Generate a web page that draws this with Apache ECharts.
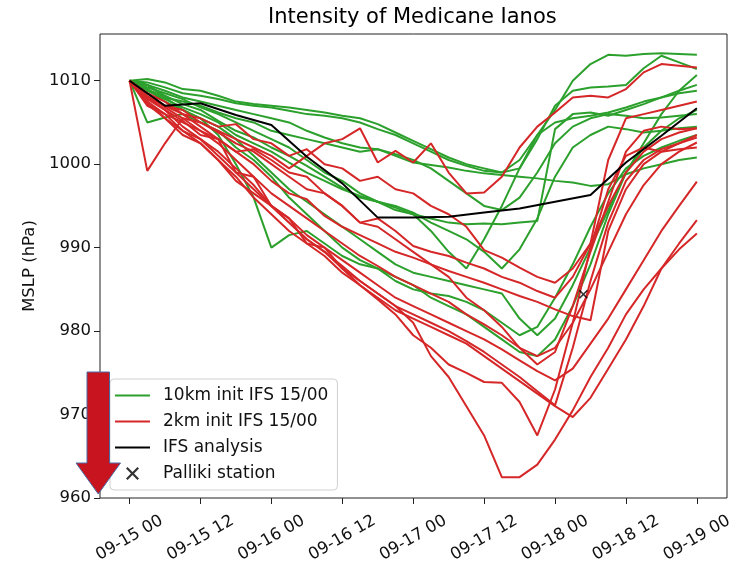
<!DOCTYPE html>
<html><head><meta charset="utf-8">
<script src="https://cdn.jsdelivr.net/npm/echarts@6/dist/echarts.min.js"></script>
<style>html,body{margin:0;padding:0;background:#fff}#c{width:737px;height:563px}</style>
</head><body><div id="c"></div>
<script>
// ---- data ----
const hours = [0,3,6,9,12,15,18,21,24,27,30,33,36,39,42,45,48,51,54,57,60,63,66,69,72,75,78,81,84,87,90,93,96];
const hoursAnalysis = [0,6,12,18,24,30,36,42,48,54,60,66,72,78,84,90,96];
const xTickHours = [0,12,24,36,48,60,72,84,96];
const xTickLabels = ['09-15 00','09-15 12','09-16 00','09-16 12','09-17 00','09-17 12','09-18 00','09-18 12','09-19 00'];
const yTicks = [960,970,980,990,1000,1010];

// 10km init IFS 15/00 runs (hPa)
const g01 = [1010,1010.2,1009.8,1009.0,1008.8,1008.2,1007.5,1007.2,1007.0,1006.8,1006.5,1006.2,1005.8,1005.5,1004.8,1003.8,1002.8,1001.8,1000.8,1000.0,999.5,999.0,1000.5,1003.5,1006.5,1010.0,1012.0,1013.1,1013.0,1013.2,1013.3,1013.2,1013.1];
const g02 = [1010,1009.8,1009.2,1008.5,1008.2,1007.8,1007.3,1007.0,1006.8,1006.4,1006.0,1005.8,1005.5,1005.0,1004.2,1003.5,1002.5,1001.5,1000.5,999.8,999.2,999.0,999.5,1003.0,1007.0,1008.8,1009.2,1009.3,1009.5,1011.5,1013.0,1012.2,1011.4];
const g03 = [1010,1009.5,1008.8,1008.0,1007.5,1007.0,1006.5,1006.0,1005.5,1005.0,1004.0,1003.2,1002.5,1002.0,1001.8,1001.0,1000.2,999.9,999.6,999.2,998.9,998.7,998.5,998.3,998.0,997.8,997.4,997.6,998.8,999.5,1000.0,1000.5,1000.8];
const g04 = [1010,1009.0,1008.0,1007.5,1007.0,1006.2,1005.5,1005.0,1004.0,1003.5,1003.0,1002.5,1002.0,1001.5,1001.8,1001.2,1000.5,999.5,998.0,996.5,995.0,994.5,996.0,999.0,1002.5,1004.5,1005.5,1006.0,1005.8,1005.5,1005.6,1005.8,1006.0];
const g05 = [1010,1009.2,1008.5,1007.8,1006.8,1006.0,1005.0,1004.0,1003.0,1002.0,1000.5,999.0,998.0,996.5,995.5,994.8,994.0,992.0,989.5,987.5,991.0,995.0,999.5,1003.5,1005.0,1005.5,1005.8,1006.2,1006.8,1007.5,1008.0,1008.5,1008.8];
const g06 = [1010,1009.5,1008.2,1007.2,1006.5,1005.2,1004.0,1003.2,1002.0,1001.0,999.8,998.5,997.2,996.0,995.5,995.0,994.2,993.0,992.0,991.0,989.5,987.5,989.8,993.5,998.5,1002.0,1003.5,1004.5,1004.2,1003.8,1004.0,1004.3,1004.5];
const g07 = [1010,1008.8,1007.8,1006.8,1006.0,1005.0,1003.5,1002.5,1001.5,1000.2,999.0,998.0,997.0,996.2,995.5,994.5,994.0,993.5,993.0,992.8,992.9,992.8,993.0,993.2,1004.2,1006.0,1006.2,1005.8,1006.5,1007.2,1008.0,1008.8,1009.5];
const g08 = [1010,1009.0,1007.5,1006.5,1005.5,1003.5,1000.0,996.0,990.0,991.5,992.0,990.5,989.0,988.0,987.5,986.0,985.0,984.5,984.2,983.5,982.5,981.0,979.5,980.5,984.0,988.0,992.5,996.5,999.5,1001.0,1002.0,1002.8,1003.5];
const g09 = [1010,1005.0,1005.6,1006.0,1005.0,1004.0,1002.0,1000.5,998.5,996.0,994.0,992.0,990.0,988.5,987.5,986.5,985.5,984.0,983.0,982.0,980.5,979.0,977.5,977.0,979.0,983.0,988.0,994.0,999.0,1002.0,1004.0,1005.5,1006.5];
const g10 = [1010,1009.5,1008.0,1006.5,1005.5,1004.5,1003.0,1001.0,999.0,997.0,995.5,994.0,992.5,991.0,989.5,988.0,987.0,986.5,986.0,985.5,985.0,984.5,981.5,979.5,981.5,985.5,990.0,994.5,999.0,1002.5,1006.0,1008.8,1010.7];

// 2km init IFS 15/00 runs (hPa)
const r01 = [1010,999.2,1002.5,1005.5,1005.0,1004.0,1003.0,1002.0,1001.0,999.5,1001.0,1002.5,1003.0,1004.3,1000.2,1001.6,1000.2,1002.5,999.0,996.5,996.6,998.5,1002.0,1004.5,1006.2,1008.0,1008.2,1008.0,1009.0,1011.0,1012.0,1011.8,1011.6];
const r02 = [1010,1008.5,1007.5,1006.0,1005.5,1004.5,1004.8,1003.0,1002.5,1001.0,1001.8,1000.0,999.5,998.0,998.5,997.0,996.5,995.0,994.0,992.5,989.7,988.8,987.6,986.5,985.8,987.5,990.5,1000.5,1005.5,1006.0,1006.5,1007.0,1007.5];
const r03 = [1010,1008.0,1007.0,1006.5,1005.0,1003.8,1002.5,1001.5,1000.0,998.5,997.0,996.5,995.0,993.0,993.5,992.0,990.2,989.5,989.0,988.2,987.5,986.5,985.8,984.8,984.0,986.5,990.5,995.0,999.0,1001.5,1003.0,1003.8,1004.3];
const r04 = [1010,1008.2,1006.8,1005.5,1004.0,1003.0,1001.5,1000.0,998.0,996.5,995.8,993.8,992.5,991.5,990.5,989.5,988.8,988.0,987.2,986.5,985.8,985.0,984.2,983.5,982.6,981.8,981.3,992.0,997.0,1000.0,1001.5,1002.5,1003.5];
const r05 = [1010,1007.5,1006.0,1005.0,1004.0,1002.5,1000.5,998.5,996.5,995.0,993.5,992.0,990.5,989.0,987.8,986.5,985.5,984.5,983.5,982.0,980.8,979.5,978.0,977.0,978.0,981.0,985.0,989.5,994.0,997.5,1000.0,1001.5,1002.6];
const r06 = [1010,1008.0,1006.5,1005.2,1003.5,1003.0,999.0,998.5,995.0,993.5,991.5,990.0,988.5,987.0,985.5,984.0,983.0,982.0,981.0,980.0,979.0,977.8,976.5,975.2,974.1,975.5,978.5,981.5,985.0,988.5,992.0,995.0,997.9];
const r07 = [1010,1007.8,1006.5,1004.5,1003.0,1001.0,999.0,997.0,995.0,993.5,990.5,990.0,987.5,986.0,984.5,983.0,982.0,981.0,980.0,978.8,977.5,976.0,974.5,972.8,971.1,978.0,986.0,993.0,998.0,1000.5,1001.8,1002.5,1003.2];
const r08 = [1010,1007.0,1006.0,1004.0,1002.5,1000.5,998.5,996.0,994.0,992.0,990.5,989.0,987.0,985.5,984.0,982.5,981.5,980.5,979.5,978.5,977.0,975.5,974.0,972.5,971.0,969.7,972.0,975.5,979.0,983.0,987.5,990.5,993.3];
const r09 = [1010,1007.2,1005.5,1004.0,1003.0,1001.5,999.5,997.5,995.0,993.0,991.0,989.5,987.5,985.5,983.8,982.0,979.5,978.0,976.0,975.0,973.9,973.8,971.5,967.5,973.0,981.0,990.0,997.0,1001.0,1002.0,1001.5,1001.8,1002.0];
const r10 = [1010,1007.5,1005.5,1003.5,1002.5,1000.5,998.0,996.5,995.0,993.0,991.0,989.5,987.8,986.0,984.5,983.0,981.0,977.0,974.5,971.0,967.5,962.5,962.5,964.0,967.0,970.5,974.5,978.0,982.0,985.0,987.5,989.8,991.7];
const r11 = [1010,1008.5,1007.0,1006.0,1004.5,1003.0,1001.5,1001.8,1000.5,999.0,998.5,996.5,995.0,993.0,992.5,991.0,989.5,988.0,986.5,984.0,982.5,980.5,978.0,976.0,977.5,983.0,989.5,995.5,1001.5,1004.0,1004.5,1004.2,1004.3];

// IFS analysis (6-hourly)
const analysis = [1010,1007.0,1007.3,1005.9,1004.7,1000.9,997.7,993.6,993.6,993.7,994.2,994.7,995.5,996.3,1000.2,1003.4,1006.7];
// Palliki station observation [hour, hPa]
const palliki = [[76.8, 984.4]];

// ---- chart ----
const NAME_G = '10km init IFS 15/00', NAME_R = '2km init IFS 15/00';
const GREEN = '#2ca02c', RED = '#d62728';
const FONT = 'DejaVu Sans';
const XPATH = 'path://M0,1.2L1.2,0L5,3.8L8.8,0L10,1.2L6.2,5L10,8.8L8.8,10L5,6.2L1.2,10L0,8.8L3.8,5Z';
const LINEICON = 'path://M0,0L35,0L35,2L0,2Z';

const series = [];
function addRun(vals, name, color) {
  series.push({type:'line', name, data: hours.map((h,i)=>[h, vals[i]]), symbol:'none',
    lineStyle:{color, width:2}, itemStyle:{color}, z:2, silent:true, animation:false});
}
[g01,g02,g03,g04,g05,g06,g07,g08,g09,g10].forEach(v=>addRun(v, NAME_G, GREEN));
[r01,r02,r03,r04,r05,r06,r07,r08,r09,r10,r11].forEach(v=>addRun(v, NAME_R, RED));
series.push({type:'line', name:'IFS analysis', data: hoursAnalysis.map((h,i)=>[h, analysis[i]]), symbol:'none',
  lineStyle:{color:'#000', width:2}, itemStyle:{color:'#000'}, z:3, silent:true, animation:false});
series.push({type:'scatter', name:'Palliki station', data: palliki, symbol: XPATH, symbolSize: 9,
  itemStyle:{color:'#000'}, z:4, silent:true, animation:false});

const chart = echarts.init(document.getElementById('c'), null, {renderer:'canvas'});
chart.setOption({
  animation:false,
  backgroundColor:'#fff',
  title:{text:'Intensity of Medicane Ianos', left:268, top:7, padding:0,
    textStyle:{fontSize:21, fontWeight:'normal', color:'#000', fontFamily:FONT}},
  grid:{left:100, right:10, top:34, bottom:65, show:true, borderColor:'#222', borderWidth:1,
    backgroundColor:'transparent', outerBoundsMode:'none'},
  xAxis:{type:'value', min:-5, max:101.1,
    axisLine:{show:false, onZero:false}, splitLine:{show:false},
    axisTick:{show:true, inside:false, length:6, lineStyle:{color:'#222', width:1}, customValues:xTickHours},
    axisLabel:{customValues:xTickHours, rotate:30, align:'center', verticalAlign:'middle', margin:40,
      fontSize:16.5, fontFamily:FONT, color:'#111',
      formatter:v=>{const i=xTickHours.indexOf(v); return i>=0?xTickLabels[i]:'';}}},
  yAxis:{type:'value', min:960, max:1015.6, name:'MSLP (hPa)', nameLocation:'middle', nameGap:62,
    nameTextStyle:{fontSize:16.5, fontFamily:FONT, color:'#111'},
    axisLine:{show:false, onZero:false}, splitLine:{show:false},
    axisTick:{show:true, inside:false, length:6, lineStyle:{color:'#222', width:1}, customValues:yTicks},
    axisLabel:{customValues:yTicks, margin:9, fontSize:16.5, fontFamily:FONT, color:'#111',
      formatter:v=>String(v)}},
  legend:{orient:'vertical', left:110, top:379, padding:[8,9,8,5], itemGap:9, itemWidth:35, itemHeight:13,
    backgroundColor:'rgba(255,255,255,0.85)', borderColor:'#d0d0d0', borderWidth:1, borderRadius:4,
    selectedMode:false,
    textStyle:{fontSize:17, fontFamily:FONT, color:'#111', padding:[0,0,0,8]},
    data:[{name:NAME_G, icon:LINEICON},{name:NAME_R, icon:LINEICON},{name:'IFS analysis', icon:LINEICON},{name:'Palliki station', icon:XPATH}]},
  graphic:[{type:'polygon', z:100, silent:true,
    shape:{points:[[87,372],[109.5,372],[109.5,463],[120.5,463],[98.3,494],[76,463],[87,463]]},
    style:{fill:'#c8141e', stroke:'#4a6aa5', lineWidth:1}}],
  series
});
</script></body></html>
